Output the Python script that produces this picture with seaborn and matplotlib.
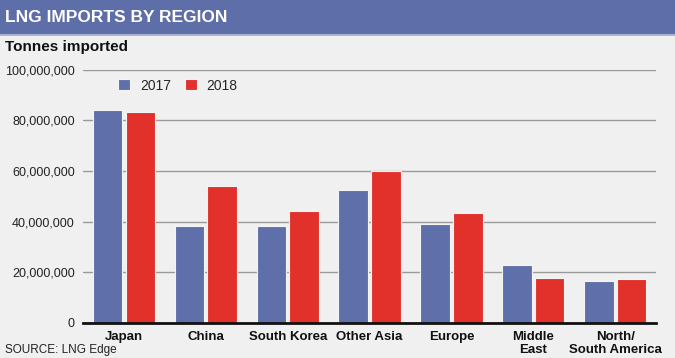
import pandas as pd
import matplotlib.pyplot as plt
import matplotlib.patches as mpatches
from matplotlib.ticker import FuncFormatter, MultipleLocator
import seaborn as sns

# values (tonnes)
regions = ['Japan', 'China', 'South Korea', 'Other Asia', 'Europe',
           'Middle\nEast', 'North/\nSouth America']
imports_2017 = [84.0e6, 38.3e6, 38.1e6, 52.4e6, 39.0e6, 22.9e6, 16.6e6]
imports_2018 = [83.4e6, 54.2e6, 44.3e6, 60.0e6, 43.4e6, 17.6e6, 17.3e6]
years = ['2017', '2018']

df = pd.DataFrame({
    'region': regions * 2,
    'year': [years[0]] * len(regions) + [years[1]] * len(regions),
    'tonnes': imports_2017 + imports_2018,
})

bg = '#f0f0f0'
blue = '#5f6fa9'
red = '#e2302a'

sns.set_theme(style='white')
plt.rcParams['font.family'] = ['Liberation Sans', 'DejaVu Sans']

fig = plt.figure(figsize=(6.75, 3.58), dpi=100, facecolor=bg)
ax = fig.add_axes([0.123, 0.098, 0.849, 0.707])
ax.set_facecolor(bg)

# header band
fig.patches.append(mpatches.Rectangle((0, 1 - 34 / 358), 1, 34 / 358, transform=fig.transFigure,
                                      facecolor='#5d6ea8', edgecolor='none', zorder=0))
fig.patches.append(mpatches.Rectangle((0, 1 - 36 / 358), 1, 2 / 358, transform=fig.transFigure,
                                      facecolor='#a9b3d3', edgecolor='none', zorder=0))
fig.text(0.008, 1 - 18 / 358, 'LNG IMPORTS BY REGION', color='white', fontsize=12.5,
         fontweight='bold', va='center', ha='left')
fig.text(0.008, 1 - 47 / 358, 'Tonnes imported', color='#111111', fontsize=11,
         fontweight='bold', va='center', ha='left')
fig.text(0.008, 1 - 350 / 358, 'SOURCE: LNG Edge', color='#222222', fontsize=8.5,
         va='center', ha='left')

ax.yaxis.grid(True, color='#9a9a9a', linewidth=1)
ax.set_axisbelow(True)

sns.barplot(data=df, x='region', y='tonnes', hue='year', palette=[blue, red],
            saturation=1, width=0.8, gap=0.1, edgecolor='#f4f4f4', linewidth=0.8, ax=ax)

ax.set_ylim(0, 100e6)
ax.set_xlim(-0.5, 6.5)
ax.yaxis.set_major_locator(MultipleLocator(20e6))
ax.yaxis.set_major_formatter(FuncFormatter(lambda v, p: f'{int(v):,}'))
ax.set_xlabel('')
ax.set_ylabel('')
ax.tick_params(axis='both', length=0)
ax.tick_params(axis='y', pad=6, labelsize=9, labelcolor='#222222')
ax.tick_params(axis='x', pad=6, labelsize=9.5, labelcolor='#111111')
for lab in ax.get_xticklabels():
    lab.set_fontweight('bold')
    lab.set_linespacing(1.05)

for s in ['top', 'right', 'left']:
    ax.spines[s].set_visible(False)
ax.spines['bottom'].set_color('#111111')
ax.spines['bottom'].set_linewidth(2)

leg = ax.legend(loc='upper left', bbox_to_anchor=(0.04, 1.015), ncol=2, frameon=False,
                handlelength=0.85, handleheight=0.85, columnspacing=1.0, handletextpad=0.7,
                prop={'size': 10})

fig.savefig('out.png', dpi=100, facecolor=bg)
